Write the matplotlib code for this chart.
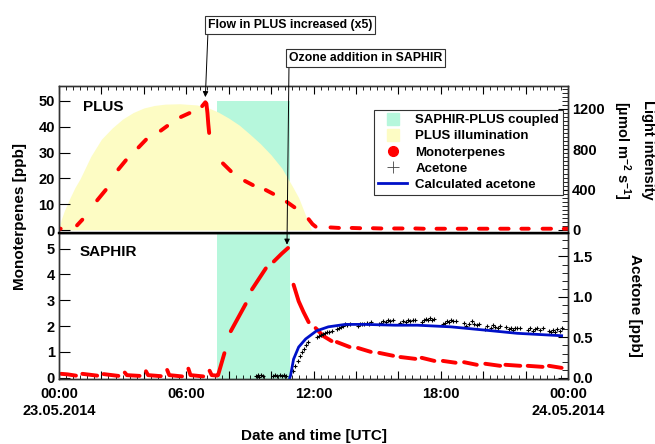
import matplotlib
matplotlib.use('Agg')
import matplotlib.pyplot as plt
import numpy as np
from matplotlib.lines import Line2D
from matplotlib.text import Annotation
from matplotlib.ticker import MultipleLocator, FixedLocator, FuncFormatter

plt.rcParams['font.family'] = ['Liberation Sans', 'DejaVu Sans']
plt.rcParams['font.weight'] = 'bold'
plt.rcParams['mathtext.fontset'] = 'custom'
plt.rcParams['mathtext.rm'] = 'Liberation Sans:bold'
plt.rcParams['mathtext.default'] = 'rm'

nan = np.nan

# Licht in PLUS (µmol m-2 s-1), Stunden ab 00:00 23.05.2014
licht_t = [0.0, 0.1, 0.25, 0.5, 0.75, 1.0, 1.5, 2.0, 2.5, 3.0, 3.5, 4.0, 4.5, 5.0, 5.7,
           6.5, 7.0, 7.5, 8.0, 8.5, 9.0, 9.5, 10.0, 10.5, 11.0, 11.3, 11.6, 11.9]
licht_v = [0, 100, 190, 310, 420, 510, 730, 900, 1010, 1100, 1165, 1210, 1235, 1248, 1252,
           1240, 1215, 1170, 1110, 1040, 950, 855, 745, 615, 435, 320, 160, 0]

# Monoterpene in PLUS (ppb), NaN trennt die Messabschnitte
plus_t = [0.0, 0.08, nan, 0.85, 1.1, nan, 1.8, 2.2, nan, 2.8, 3.15, nan, 3.75, 4.1, nan,
          4.8, 5.1, nan, 5.75, 6.15, nan, 6.75, 6.9, 6.95, 7.0, 7.04, 7.08, nan,
          7.73, 8.1, nan, 8.77, 9.14, nan, 9.75, 10.1, nan, 10.74, 11.1, nan,
          11.77, 11.95, 12.1, nan, 12.8, 13.2, nan, 13.8, 14.2, nan, 14.8, 15.2, nan,
          15.8, 16.2, nan, 16.8, 17.2, nan, 17.8, 18.2, nan, 18.8, 19.2, nan,
          19.8, 20.2, nan, 20.8, 21.2, nan, 21.8, 22.15, nan, 22.8, 23.2, nan, 23.8, 24.0]
plus_v = [0.6, 0.5, nan, 1.8, 4.0, nan, 11.5, 15.5, nan, 23.5, 27.0, nan, 32.0, 35.0, nan,
          38.5, 40.3, nan, 43.8, 45.3, nan, 48.0, 49.5, 49.0, 45.3, 41.0, 37.6, nan,
          25.8, 22.8, nan, 19.0, 17.4, nan, 15.5, 14.0, nan, 10.9, 8.8, nan,
          4.2, 2.3, 1.3, nan, 1.0, 0.8, nan, 0.8, 0.7, nan, 0.7, 0.6, nan,
          0.6, 0.6, nan, 0.6, 0.5, nan, 0.5, 0.5, nan, 0.5, 0.5, nan,
          0.5, 0.5, nan, 0.5, 0.5, nan, 0.5, 0.5, nan, 0.5, 0.5, nan, 0.5, 0.5]

# Monoterpene in SAPHIR (ppb)
saphir_t = [0.1, 0.4, 0.8, nan, 1.1, 1.4, 1.8, nan, 2.1, 2.4, 2.8, nan, 3.1, 3.2, 3.8, nan,
            4.1, 4.2, 4.8, nan, 5.1, 5.2, 5.8, nan, 6.1, 6.2, 6.8, nan, 7.1, 7.2, 7.45, nan,
            7.5, 7.8, nan, 8.1, 8.8, nan, 9.1, 9.75, nan, 10.13, 10.5, 10.8, nan,
            11.06, 11.3, 11.53, 11.77, nan, 12.1, 12.45, 12.85, nan, 13.1, 13.7, nan,
            14.1, 14.7, nan, 15.1, 15.75, nan, 16.1, 16.8, nan, 17.1, 17.7, nan,
            18.1, 18.7, nan, 19.1, 19.7, nan, 20.1, 20.8, nan, 21.05, 21.75, nan,
            22.1, 22.8, nan, 23.1, 23.7]
saphir_v = [0.15, 0.13, 0.08, nan, 0.15, 0.12, 0.08, nan, 0.14, 0.11, 0.07, nan, 0.2, 0.1, 0.07, nan,
            0.25, 0.1, 0.06, nan, 0.3, 0.1, 0.05, nan, 0.35, 0.1, 0.05, nan, 0.27, 0.1, 0.08, nan,
            0.1, 0.95, nan, 1.8, 2.85, nan, 3.42, 4.23, nan, 4.5, 4.8, 5.02, nan,
            3.6, 2.96, 2.54, 2.15, nan, 1.92, 1.62, 1.42, nan, 1.38, 1.19, nan,
            1.15, 1.0, nan, 0.96, 0.85, nan, 0.8, 0.73, nan, 0.77, 0.65, nan,
            0.65, 0.58, nan, 0.6, 0.5, nan, 0.54, 0.46, nan, 0.5, 0.46, nan,
            0.46, 0.42, nan, 0.46, 0.38]

# Aceton gemessen in SAPHIR (ppb)
aceton_t = [9.30, 9.38, 9.45, 9.52, 9.60,
            10.10, 10.20, 10.30, 10.40, 10.50, 10.60, 10.70,
            11.05, 11.15, 11.25, 11.35, 11.45, 11.55, 11.65, 11.75,
            12.15, 12.25, 12.35, 12.45, 12.55, 12.65, 12.75, 12.85,
            13.10, 13.20, 13.30, 13.40, 13.50, 13.60, 13.70,
            14.10, 14.20, 14.30, 14.40, 14.50, 14.60, 14.70,
            15.10, 15.20, 15.30, 15.40, 15.50, 15.60, 15.75,
            16.10, 16.20, 16.35, 16.45, 16.55, 16.70, 16.80,
            17.10, 17.20, 17.30, 17.40, 17.50, 17.60, 17.70,
            18.10, 18.20, 18.30, 18.40, 18.50, 18.60, 18.70,
            19.10, 19.20, 19.35, 19.45, 19.55, 19.70, 19.80,
            20.10, 20.20, 20.35, 20.45, 20.55, 20.70, 20.80,
            21.10, 21.20, 21.30, 21.40, 21.50, 21.60, 21.75,
            22.10, 22.20, 22.35, 22.45, 22.55, 22.70, 22.80,
            23.10, 23.20, 23.30, 23.40, 23.50, 23.60, 23.70]
aceton_v = [0.02, 0.03, 0.01, 0.03, 0.02,
            0.02, 0.03, 0.02, 0.04, 0.02, 0.03, 0.02,
            0.08, 0.15, 0.21, 0.27, 0.32, 0.36, 0.40, 0.44,
            0.50, 0.52, 0.53, 0.54, 0.55, 0.57, 0.57, 0.58,
            0.60, 0.62, 0.63, 0.64, 0.66, 0.65, 0.66,
            0.64, 0.66, 0.67, 0.66, 0.68, 0.67, 0.69,
            0.66, 0.68, 0.70, 0.69, 0.71, 0.70, 0.72,
            0.68, 0.70, 0.69, 0.71, 0.70, 0.72, 0.71,
            0.69, 0.71, 0.73, 0.72, 0.74, 0.72, 0.73,
            0.66, 0.68, 0.70, 0.69, 0.71, 0.70, 0.70,
            0.68, 0.64, 0.67, 0.70, 0.66, 0.65, 0.67,
            0.60, 0.64, 0.62, 0.65, 0.63, 0.61, 0.64,
            0.63, 0.60, 0.62, 0.59, 0.61, 0.62, 0.61,
            0.59, 0.61, 0.58, 0.60, 0.62, 0.59, 0.61,
            0.58, 0.56, 0.59, 0.57, 0.60, 0.58, 0.62]

# Aceton berechnet (ppb)
calc_t = [10.88, 10.92, 11.06, 11.3, 11.63, 12.14, 12.7, 13.5, 14.44, 15.85, 16.9, 18.47, 20.06, 21.6, 23.7]
calc_v = [0.0, 0.03, 0.23, 0.38, 0.48, 0.58, 0.63, 0.66, 0.66, 0.65, 0.65, 0.63, 0.59, 0.55, 0.52]

# Kopplung SAPHIR-PLUS und Ereignisse
kopplung = (7.45, 10.88)
t_flow = 6.9
t_ozon = 10.75

tick_pos = [0, 6, 12, 18, 24]
tick_lab = ['00:00\n23.05.2014', '06:00', '12:00', '18:00', '00:00\n24.05.2014']

gruen = '#b6f7dc'
gelb = '#fdfcc4'

fig = plt.figure(figsize=(6.55, 4.44), dpi=100)
W, H = 655, 444
links, rechts = 59 / W, 568 / W
ax1 = fig.add_axes([links, 1 - 233 / H, rechts - links, 147 / H])
ax2 = fig.add_axes([links, 1 - 379 / H, rechts - links, 146 / H], sharex=ax1)
ax1r = ax1.twinx()
ax2r = ax2.twinx()
ax1.set_zorder(ax1r.get_zorder() + 1)
ax1.patch.set_visible(False)

# oberes Panel: PLUS
ax1.set_ylim(-1.16, 55.8)
ax1r.set_ylim(-30, 1428)
faktor = 1428 / 55.8
ax1r.fill_between(kopplung, [0, 0], [50 * faktor, 50 * faktor], color=gruen, lw=0)
ax1r.fill_between(licht_t, 0, licht_v, color=gelb, lw=0)
ax1.plot(plus_t, plus_v, color='red', lw=2.8, solid_capstyle='round')
ax1.text(0.047, 0.86, 'PLUS', transform=ax1.transAxes, fontsize=11, va='center')

# unteres Panel: SAPHIR
ax2.set_ylim(-0.05, 5.6)
ax2r.set_ylim(-0.015, 1.79)
ax2.axvspan(*kopplung, color=gruen, lw=0)
ax2.plot(saphir_t, saphir_v, color='red', lw=2.8, solid_capstyle='round')
ax2r.plot(aceton_t, aceton_v, ls='none', marker='+', ms=3.5, mew=0.8, color='black')
ax2r.plot(calc_t, calc_v, color='#0010c8', lw=2)
ax2.text(0.041, 0.87, 'SAPHIR', transform=ax2.transAxes, fontsize=11, va='center')

ax1.set_xlim(0, 24)
for ax in (ax1, ax2):
    ax.xaxis.set_major_locator(MultipleLocator(2))
    ax.xaxis.set_minor_locator(MultipleLocator(1 / 3))
ax2.xaxis.set_major_formatter(FuncFormatter(
    lambda x, p: tick_lab[tick_pos.index(int(round(x)))] if int(round(x)) in tick_pos else ''))
ax1.tick_params(axis='x', which='both', direction='in', top=True, bottom=False, labelbottom=False)
ax1.tick_params(axis='x', which='major', length=6)
ax1.tick_params(axis='x', which='minor', length=3)
ax2.tick_params(axis='x', which='both', direction='in', top=False, bottom=True, labelsize=10.5, pad=6)
ax2.tick_params(axis='x', which='major', length=6)
ax2.tick_params(axis='x', which='minor', length=3)

ax1.yaxis.set_major_locator(MultipleLocator(10))
ax2.yaxis.set_major_locator(MultipleLocator(1))
ax1r.yaxis.set_major_locator(FixedLocator([0, 400, 800, 1200]))
ax1r.yaxis.set_minor_locator(MultipleLocator(40))
ax2r.yaxis.set_major_locator(FixedLocator([0.0, 0.5, 1.0, 1.5]))
ax2r.yaxis.set_minor_locator(MultipleLocator(0.1))
ax2r.yaxis.set_major_formatter(FuncFormatter(lambda v, p: '%.1f' % v))
for ax in (ax1, ax2):
    ax.tick_params(axis='y', direction='in', length=8, labelsize=10.5, pad=3)
for ax in (ax1r, ax2r):
    ax.tick_params(axis='y', which='major', direction='in', length=7, labelsize=10.5, pad=3)
    ax.tick_params(axis='y', which='minor', direction='in', length=4)

for ax in (ax1, ax1r, ax2, ax2r):
    for s in ax.spines.values():
        s.set_color('#333333')
        s.set_linewidth(1)
ax1.spines['bottom'].set_linewidth(1.6)
ax1.spines['bottom'].set_color('black')
ax2.spines['top'].set_linewidth(1.6)
ax2.spines['top'].set_color('black')

# Legende
handles = [Line2D([], [], ls='none', marker='s', ms=8, color=gruen),
           Line2D([], [], ls='none', marker='s', ms=8, color=gelb),
           Line2D([], [], ls='none', marker='o', ms=7, color='red'),
           Line2D([], [], ls='none', marker='+', ms=8, mew=0.6, color='#444444'),
           Line2D([], [], color='#0010c8', lw=2)]
labels = ['SAPHIR-PLUS coupled', 'PLUS illumination', 'Monoterpenes', 'Acetone', 'Calculated acetone']
leg = ax1.legend(handles, labels, loc='upper right', bbox_to_anchor=(0.99, 0.837), borderaxespad=0,
                 fontsize=9.5, fancybox=False, framealpha=1, edgecolor='#333333',
                 handlelength=2.2, handletextpad=0.6, labelspacing=0.3, borderpad=0.3)
leg.get_frame().set_linewidth(0.8)

# Beschriftungen
fig.text(20 / W, 1 - 216 / H, 'Monoterpenes [ppb]', rotation=90, ha='center', va='center', fontsize=11)
fig.text(314 / W, 1 - 436 / H, 'Date and time [UTC]', ha='center', va='center', fontsize=11)
fig.text(633 / W, 1 - 150 / H, 'Light intensity\n[µmol m$^{-2}$ s$^{-1}$]', rotation=270,
         ha='center', va='center', fontsize=10.5, linespacing=1.5)
fig.text(635 / W, 1 - 305 / H, 'Acetone [ppb]', rotation=270, ha='center', va='center', fontsize=11)

# Pfeile
pfeil = dict(arrowstyle='-|>', lw=0.7, color='black', mutation_scale=8, shrinkA=0, shrinkB=0, relpos=(0, 0))
box = dict(boxstyle='square,pad=0.25', fc='white', ec='#333333', lw=0.8)
a1 = Annotation('Flow in PLUS increased (x5)', xy=(t_flow, 51.5), xycoords=ax1.transData,
                xytext=(208, H - 31), textcoords='figure pixels', fontsize=8.8, ha='left', va='bottom',
                bbox=box, arrowprops=pfeil)
a2 = Annotation('Ozone addition in SAPHIR', xy=(t_ozon, 5.15), xycoords=ax2.transData,
                xytext=(289, H - 64), textcoords='figure pixels', fontsize=8.8, ha='left', va='bottom',
                bbox=box, arrowprops=pfeil)
fig.add_artist(a1)
fig.add_artist(a2)

plt.savefig('out.png', dpi=100)
